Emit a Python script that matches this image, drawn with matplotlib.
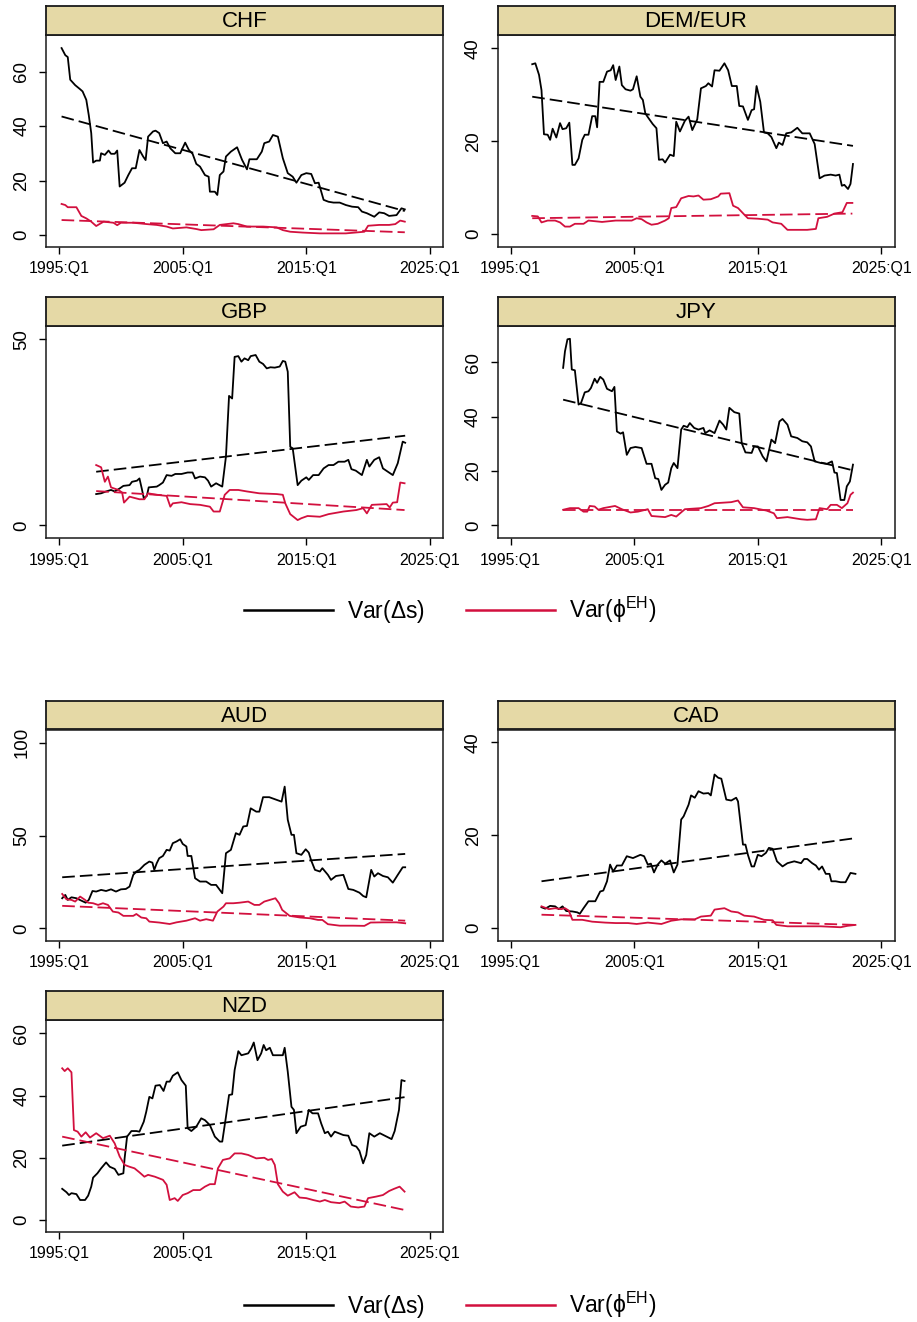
import matplotlib
matplotlib.use("Agg")
import matplotlib.pyplot as plt
from matplotlib.lines import Line2D
import numpy as np

plt.rcParams['font.family'] = ['Liberation Sans', 'DejaVu Sans']
plt.rcParams['mathtext.fontset'] = 'custom'
plt.rcParams['mathtext.rm'] = 'Liberation Sans'
plt.rcParams['mathtext.it'] = 'Liberation Sans:italic'

# rolling variances, (decimal year, value)
chf_ds = [(1995.2,68.6),(1995.5,66),(1995.7,65.3),(1995.9,57),(1996.3,55),(1996.7,53.5),(1996.9,52.7),
          (1997.2,49.6),(1997.4,44),(1997.6,37.4),(1997.75,26.6),(1998.0,27.3),(1998.3,27.3),(1998.4,30),
          (1998.7,29.4),(1999.0,31),(1999.2,29.8),(1999.5,29.8),(1999.7,31),(1999.9,17.8),(2000.3,19.2),
          (2000.6,22),(2000.9,24.5),(2001.2,24.5),(2001.5,31.2),(2001.8,28.8),(2002.0,27.5),(2002.2,36.1),
          (2002.6,38),(2002.8,38.3),(2003.1,37.4),(2003.4,33.7),(2003.7,34.3),(2004.0,31.8),(2004.4,30),
          (2004.8,30),(2005.2,33.9),(2005.5,31.2),(2005.8,29.8),(2006.1,26.1),(2006.4,25.1),(2006.8,22),
          (2007.1,21.4),(2007.2,15.9),(2007.6,15.9),(2007.8,14.7),(2008.0,22),(2008.3,23.3),(2008.5,28.8),
          (2008.9,30.6),(2009.4,32.2),(2009.8,27.6),(2010.2,24.1),(2010.4,27.8),(2011.0,27.8),(2011.4,30.6),
          (2011.6,33.7),(2012.0,34.3),(2012.3,36.7),(2012.7,36.1),(2013.1,28.2),(2013.5,22.7),(2013.9,21.4),
          (2014.2,19.2),(2014.6,22),(2015.0,22.7),(2015.4,22.4),(2015.7,19),(2016.0,19.2),(2016.4,12.9),
          (2016.8,12.2),(2017.2,11.9),(2017.7,11.9),(2018.2,11),(2018.7,10.4),(2019.2,10.2),(2019.5,8.6),
          (2019.9,8),(2020.5,6.7),(2020.9,8.3),(2021.3,8),(2021.7,7),(2022.3,7.3),(2022.7,9.8),(2022.97,9.4)]
chf_phi = [(1995.2,11.4),(1995.5,11),(1995.7,10.2),(1996.4,10.2),(1996.8,7),(1997.2,6.1),(1997.6,4.9),
           (1998.0,3.3),(1998.6,4.9),(1999.4,4.5),(1999.7,3.6),(2000.0,4.5),(2001.0,4.5),(2002.1,4.0),
           (2002.9,3.7),(2003.7,3.1),(2004.2,2.4),(2005.3,2.8),(2006.1,2.2),(2006.5,1.8),(2007.5,2.1),
           (2008.0,3.7),(2009.1,4.3),(2009.5,4.0),(2010.2,3.1),(2011.5,3.1),(2012.6,2.8),(2013.1,1.8),
           (2013.7,1.2),(2014.7,0.9),(2016.1,0.6),(2017.2,0.6),(2018.2,0.6),(2019.7,1.2),(2020.0,3.4),
           (2020.9,3.7),(2021.7,3.7),(2022.2,4.0),(2022.6,5.3),(2022.97,4.9)]
chf_trend_ds = [43.5, 8.8]
chf_trend_phi = [5.5, 1.0]

dem_ds = [(1996.75,36.6),(1997.0,36.8),(1997.3,34.3),(1997.5,31),(1997.7,21.5),(1998.0,21.4),(1998.2,20.3),
          (1998.4,22.7),(1998.7,20.8),(1999.0,23.9),(1999.2,22.6),(1999.5,22.8),(1999.75,24),(2000.0,14.9),
          (2000.2,14.9),(2000.5,16.3),(2000.8,20.3),(2001.0,21.4),(2001.3,21.4),(2001.6,25.4),(2001.85,25.4),
          (2002.0,23),(2002.2,32.8),(2002.5,32.8),(2002.8,35),(2003.1,35.3),(2003.3,36.4),(2003.5,33.2),
          (2003.8,36.1),(2004.0,32.1),(2004.3,31.2),(2004.7,30.9),(2004.9,31.2),(2005.2,34),(2005.5,29.6),
          (2005.7,28.9),(2005.9,26),(2006.1,25.2),(2006.5,23.7),(2006.8,22.8),(2007.0,16),(2007.3,16.1),
          (2007.5,15.4),(2007.9,17.1),(2008.2,16.8),(2008.4,24.2),(2008.7,22.1),(2009.1,24.4),(2009.4,25.3),
          (2009.7,22.4),(2010.1,24.7),(2010.4,31.4),(2010.8,31.9),(2011.0,32.5),(2011.3,31.8),(2011.5,35.3),
          (2011.9,35.2),(2012.3,36.8),(2012.6,35.3),(2012.9,31.9),(2013.3,31.9),(2013.5,27.6),(2013.8,27.5),
          (2014.2,24.6),(2014.5,26.7),(2014.7,26.9),(2014.9,31.9),(2015.2,28.5),(2015.5,21.9),(2015.8,21.7),
          (2016.1,20.9),(2016.5,18.5),(2016.7,19.7),(2017.0,19.2),(2017.3,21.7),(2017.7,21.9),(2018.2,22.9),
          (2018.6,21.7),(2019.2,21.7),(2019.6,19.4),(2020.0,12),(2020.4,12.6),(2020.9,12.8),(2021.3,12.6),
          (2021.6,12.8),(2021.8,10.4),(2022.0,10.6),(2022.3,9.7),(2022.5,10.8),(2022.7,15.1)]
dem_phi = [(1996.75,3.9),(1997.2,3.8),(1997.5,2.5),(1998.0,2.9),(1998.6,2.9),(1999.0,2.5),(1999.4,1.6),
           (1999.8,1.6),(2000.2,2.2),(2000.9,2.2),(2001.3,2.9),(2002.4,2.6),(2003.5,2.9),(2004.8,2.9),
           (2005.2,3.4),(2005.6,3.2),(2006.0,2.5),(2006.4,2.0),(2006.9,2.2),(2007.5,2.9),(2007.8,3.4),
           (2008.0,5.6),(2008.4,5.8),(2008.8,7.7),(2009.4,8.2),(2009.8,8.1),(2010.2,8.3),(2010.6,7.4),
           (2011.2,7.5),(2011.8,8.1),(2012.0,8.7),(2012.7,8.8),(2013.0,6.1),(2013.4,5.6),(2013.9,4.2),
           (2014.2,3.4),(2015.0,3.3),(2015.8,3.1),(2016.2,2.5),(2016.9,2.2),(2017.4,0.9),(2019.0,0.9),
           (2019.7,1.1),(2019.9,3.4),(2020.6,3.7),(2021.2,4.4),(2021.85,4.7),(2022.2,6.7),(2022.65,6.7)]
dem_trend_ds = [29.6, 19.0]
dem_trend_phi = [3.4, 4.4]

gbp_ds = [(1998.0,8.4),(1998.4,8.6),(1998.8,9.1),(1999.2,9.5),(1999.5,9.1),(1999.9,9.9),(2000.2,10.6),
          (2000.7,10.8),(2000.9,11.7),(2001.3,12),(2001.5,12.6),(2001.7,9.7),(2001.85,7.3),(2002.1,7.9),
          (2002.25,10.2),(2002.9,10.4),(2003.1,10.8),(2003.4,11.5),(2003.7,13.5),(2004.1,13.3),(2004.4,13.8),
          (2004.9,13.8),(2005.4,14.2),(2005.8,14.2),(2006.0,12.6),(2006.4,13.1),(2006.8,12.9),(2007.05,12),
          (2007.3,10.4),(2007.7,11.3),(2008.2,10.4),(2008.5,18.5),(2008.75,34.8),(2009.0,34.1),(2009.2,45.3),
          (2009.5,45.5),(2009.75,44),(2010.0,44.9),(2010.3,44.4),(2010.5,45.5),(2010.9,45.8),(2011.2,44),
          (2011.5,43.4),(2011.8,42.2),(2012.1,42.5),(2012.45,42.4),(2012.85,42.7),(2013.1,44.2),(2013.3,44),
          (2013.5,41.3),(2013.7,21.1),(2013.9,20.7),(2014.3,10.8),(2014.6,12),(2015.0,12.9),(2015.2,12.2),
          (2015.55,13.5),(2016.0,13.5),(2016.4,15.3),(2016.8,16.2),(2017.2,16.2),(2017.6,17.1),(2018.1,17.1),
          (2018.4,17.6),(2018.65,15.1),(2019.0,14.7),(2019.5,13.5),(2019.9,17.6),(2020.1,15.8),(2020.5,17.6),
          (2020.9,18.3),(2021.2,15.3),(2021.6,14.4),(2022.0,13.5),(2022.4,16.7),(2022.8,22.5),(2023.0,22.2)]
gbp_phi = [(1998.0,16.2),(1998.4,15.6),(1998.7,11.7),(1998.95,13.1),(1999.2,10.2),(1999.8,9.5),(2000.1,8.8),
           (2000.25,6.1),(2000.7,7.7),(2001.5,7.0),(2001.9,7.0),(2002.2,8.6),(2002.9,8.2),(2003.7,7.9),
           (2004.0,5.0),(2004.2,5.9),(2004.9,6.2),(2005.6,5.7),(2006.4,5.5),(2007.2,5.0),(2007.5,3.7),
           (2008.0,3.7),(2008.4,8.2),(2008.8,9.5),(2009.5,9.5),(2010.2,9.1),(2011.2,8.6),(2012.6,8.4),
           (2013.1,8.2),(2013.3,5.9),(2013.7,3.0),(2014.3,1.4),(2014.6,1.9),(2015.1,2.5),(2016.1,2.3),
           (2016.8,3.0),(2018.0,3.7),(2019.05,4.1),(2019.6,4.6),(2019.9,3.2),(2020.3,5.5),(2021.5,5.7),
           (2021.75,4.8),(2022.0,6.1),(2022.35,6.2),(2022.6,11.5),(2022.95,11.3)]
gbp_trend_ds = [14.4, 24.1]
gbp_trend_phi = [9.2, 4.1]

jpy_ds = [(1999.25,57.9),(1999.4,64),(1999.6,68.4),(1999.8,68.6),(1999.95,57.3),(2000.2,57),(2000.5,44.4),
          (2000.7,45),(2001.0,48.9),(2001.3,49.3),(2001.5,50.5),(2001.8,53.9),(2002.0,52.4),(2002.25,54.6),
          (2002.5,53.6),(2002.8,50.2),(2003.2,49.3),(2003.4,50.9),(2003.6,34.5),(2003.9,33.7),(2004.1,34.2),
          (2004.4,25.9),(2004.7,28.4),(2005.1,28.8),(2005.6,28.4),(2006.0,22.6),(2006.4,22.6),(2006.7,17.3),
          (2006.95,17),(2007.2,13),(2007.5,14.9),(2007.75,15.7),(2008.0,21),(2008.2,22.9),(2008.5,21),
          (2008.8,35.2),(2009.0,36.6),(2009.3,36.1),(2009.5,37.6),(2009.85,35.8),(2010.2,35.2),(2010.6,35.8),
          (2010.75,33.9),(2011.1,34.9),(2011.5,33.9),(2011.9,38.5),(2012.2,37),(2012.45,35.2),(2012.7,43.2),
          (2013.1,41.6),(2013.5,41.1),(2013.7,30.2),(2014.0,26.8),(2014.5,26.6),(2014.7,29),(2015.0,29),
          (2015.4,25.3),(2015.7,23.5),(2016.1,31.5),(2016.4,30.2),(2016.75,38.2),(2017.0,39.1),(2017.4,37),
          (2017.7,32.7),(2018.2,32.1),(2018.6,30.9),(2019.0,30.5),(2019.3,29),(2019.6,23.5),(2020.1,22.9),
          (2020.6,22.6),(2021.0,23.5),(2021.2,19.4),(2021.4,19.2),(2021.7,9.3),(2022.0,9.3),(2022.2,14.3),
          (2022.45,16.1),(2022.7,22.3)]
jpy_phi = [(1999.25,5.7),(1999.8,6.3),(2000.5,6.3),(2000.9,5.0),(2001.2,5.0),(2001.4,7.1),(2001.8,6.9),
           (2002.1,5.7),(2002.5,6.3),(2003.45,7.1),(2004.0,5.9),(2004.7,4.7),(2005.3,5.0),(2006.1,5.9),
           (2006.4,3.4),(2007.5,3.0),(2008.0,3.8),(2008.4,3.2),(2009.1,5.9),(2010.4,6.3),(2011.0,7.1),
           (2011.5,8.1),(2012.85,8.5),(2013.4,9.1),(2013.8,6.6),(2014.7,6.3),(2015.7,5.4),(2016.3,4.4),
           (2016.55,2.6),(2017.4,3.0),(2018.5,2.2),(2019.0,2.0),(2019.7,2.2),(2020.0,6.3),(2020.6,5.9),
           (2020.9,7.5),(2021.4,7.5),(2021.8,6.3),(2022.25,8.1),(2022.5,11.2),(2022.7,12.0)]
jpy_trend_ds = [46.2, 20.2]
jpy_trend_phi = [5.7, 5.7]

aud_ds = [(1995.25,16.2),(1995.5,18),(1995.7,15.3),(1996.0,16.7),(1996.4,16.2),(1996.8,14.9),(1997.15,13.8),
          (1997.4,15.3),(1997.7,20.1),(1998.0,19.8),(1998.4,20.7),(1998.8,20.1),(1999.2,21),(1999.6,19.8),
          (2000.0,21),(2000.4,21.2),(2000.7,22.5),(2001.0,28.8),(2001.25,30.6),(2001.5,31.5),(2001.9,34.2),
          (2002.3,36),(2002.55,35.4),(2002.7,31.5),(2002.9,35.1),(2003.1,37.8),(2003.4,39),(2003.7,42.3),
          (2003.95,41.9),(2004.2,45.9),(2004.5,46.8),(2004.8,48),(2005.0,45.5),(2005.3,44.1),(2005.4,39),
          (2005.7,39),(2006.0,27),(2006.4,25.2),(2006.9,25.2),(2007.3,23.4),(2007.7,23.4),(2008.2,18.9),
          (2008.5,40.5),(2008.9,42.3),(2009.3,51.3),(2009.6,50.4),(2009.9,54.9),(2010.2,55.2),(2010.5,64.7),
          (2010.95,62.9),(2011.2,62.9),(2011.5,70.7),(2012.0,70.7),(2013.0,68.3),(2013.25,76.4),(2013.5,58.5),
          (2013.8,50.4),(2014.0,50.4),(2014.2,40.5),(2014.6,39.6),(2014.95,42.6),(2015.2,40.8),(2015.4,36.5),
          (2015.7,31.5),(2016.1,30.6),(2016.3,32.4),(2016.75,28.8),(2017.0,26.1),(2017.4,28.2),(2018.0,28.8),
          (2018.4,21.2),(2018.8,20.7),(2019.3,19.2),(2019.6,17.4),(2019.85,16.7),(2020.25,31.5),(2020.5,27.9),
          (2020.8,29.7),(2021.2,28.2),(2021.6,27.5),(2022.0,24.6),(2022.4,28.8),(2022.8,32.9),(2023.0,32.9)]
aud_phi = [(1995.25,18.5),(1995.6,15.6),(1996.0,15.3),(1996.3,14.4),(1996.7,17.1),(1997.1,15.3),(1997.35,13.8),
           (1997.75,13.5),(1998.15,12.6),(1998.55,13.5),(1998.95,12.6),(1999.35,9.0),(1999.8,8.5),(2000.2,6.7),
           (2000.6,6.7),(2001.0,6.7),(2001.25,7.7),(2001.65,5.8),(2002.05,5.4),(2002.3,3.6),(2003.1,3.1),
           (2003.95,2.3),(2004.5,3.2),(2005.3,4.1),(2006.0,5.4),(2006.4,4.1),(2006.9,4.9),(2007.45,4.1),
           (2007.8,9.0),(2008.3,11.7),(2008.5,13.5),(2009.1,13.5),(2009.6,13.8),(2010.3,14.4),(2010.8,12.6),
           (2011.2,12.6),(2011.6,14.4),(2012.2,15.6),(2012.5,16.2),(2012.8,13.5),(2013.05,9.9),(2013.65,6.7),
           (2014.5,5.8),(2015.3,5.4),(2015.95,4.5),(2016.3,4.5),(2016.75,2.2),(2017.7,1.4),(2018.8,1.4),
           (2019.7,1.3),(2020.2,3.1),(2021.2,3.2),(2022.3,3.2),(2023.0,2.7)]
aud_trend_ds = [27.5, 40.1]
aud_trend_phi = [12.1, 4.1]

cad_ds = [(1997.5,4.5),(1997.8,4.2),(1998.2,4.8),(1998.6,4.7),(1998.9,4.1),(1999.2,4.7),(1999.5,3.7),
          (2000.0,3.6),(2000.4,3.4),(2000.6,3.1),(2000.9,4.3),(2001.3,5.8),(2001.85,5.8),(2002.25,7.9),
          (2002.5,8.1),(2002.8,10.1),(2003.05,13.7),(2003.3,12.2),(2003.6,13.5),(2004.0,13.5),(2004.4,15.5),
          (2004.9,15.1),(2005.5,15.8),(2005.8,15.5),(2006.1,13.7),(2006.35,13.9),(2006.6,12.0),(2006.9,13.7),
          (2007.2,14.6),(2007.5,13.9),(2007.9,14.6),(2008.2,12.0),(2008.5,13.7),(2008.8,23.4),(2009.0,24.1),
          (2009.4,26.6),(2009.6,28.6),(2009.9,28.1),(2010.2,29.5),(2010.6,29),(2011.0,29.1),(2011.2,28.6),
          (2011.5,33.1),(2011.8,32.4),(2012.05,32.2),(2012.45,27.7),(2012.85,27.5),(2013.25,28.1),(2013.4,27.3),
          (2013.8,18.0),(2014.0,18.0),(2014.2,15.8),(2014.5,13.3),(2014.7,13.3),(2015.0,15.8),(2015.3,15.5),
          (2015.65,16.2),(2015.9,17.3),(2016.2,17.1),(2016.55,14.4),(2017.0,13.3),(2017.4,14.0),(2017.95,14.4),
          (2018.5,14.0),(2018.75,14.9),(2019.0,14.9),(2019.4,14.0),(2019.7,13.5),(2019.95,12.6),(2020.2,13.3),
          (2020.5,11.7),(2020.8,11.7),(2020.95,10.1),(2021.3,10.1),(2021.7,9.9),(2022.1,9.9),(2022.5,11.9),
          (2022.9,11.7)]
cad_phi = [(1997.5,4.7),(1998.1,4.1),(1998.6,4.3),(1999.1,4.1),(1999.4,4.3),(1999.7,3.8),(2000.0,1.8),
           (2000.8,1.8),(2001.6,1.4),(2002.65,1.2),(2003.5,1.1),(2004.5,1.1),(2005.2,0.9),(2006.1,1.2),
           (2007.2,0.9),(2008.0,1.6),(2008.8,1.9),(2009.9,1.9),(2010.4,2.5),(2011.2,2.7),(2011.5,4.0),
           (2012.3,4.3),(2012.85,3.6),(2013.4,3.4),(2013.9,2.7),(2014.7,2.5),(2015.5,1.8),(2016.2,1.7),
           (2016.5,0.7),(2017.4,0.4),(2019.0,0.4),(2020.1,0.4),(2021.7,0.2),(2022.25,0.5),(2022.9,0.7)]
cad_trend_ds = [10.1, 19.4]
cad_trend_phi = [2.9, 0.7]

nzd_ds = [(1995.25,10),(1995.6,8.9),(1995.8,8.0),(1996.0,8.6),(1996.4,8.3),(1996.7,6.4),(1997.1,6.4),
          (1997.35,7.8),(1997.6,10.7),(1997.75,13.6),(1998.1,15),(1998.4,16.6),(1998.8,18.5),(1999.1,17.1),
          (1999.5,16.4),(1999.8,14.5),(2000.2,15),(2000.3,19.8),(2000.5,26.8),(2000.85,28.6),(2001.25,28.6),
          (2001.5,28.4),(2001.85,31.6),(2002.05,34.8),(2002.3,39.6),(2002.55,39.1),(2002.8,43.2),(2003.15,43.4),
          (2003.45,41.5),(2003.7,44.5),(2003.95,44.5),(2004.2,46.4),(2004.6,47.5),(2004.9,45),(2005.25,43.2),
          (2005.4,29.5),(2005.7,28.6),(2006.1,30),(2006.5,32.7),(2006.8,32.1),(2007.2,30.5),(2007.6,26.8),
          (2008.0,25.2),(2008.2,25.2),(2008.5,33.2),(2008.75,40.2),(2009.0,40.4),(2009.2,48.2),(2009.5,54.3),
          (2009.75,53),(2010.3,53.6),(2010.55,55.2),(2010.75,57.1),(2011.05,51.4),(2011.35,53.6),(2011.55,56.3),
          (2011.75,54.6),(2012.05,55.4),(2012.3,53),(2012.7,53),(2013.1,53),(2013.25,55.4),(2013.5,47.7),
          (2013.8,36.4),(2014.0,35.4),(2014.2,27.9),(2014.55,30),(2014.95,30.5),(2015.2,35.4),(2015.5,34.3),
          (2015.95,34.3),(2016.2,31.1),(2016.5,27.9),(2016.75,28.4),(2017.0,26.8),(2017.3,28.4),(2018.0,27.3),
          (2018.4,27.1),(2018.7,24.1),(2019.05,23.6),(2019.3,22.2),(2019.6,18.2),(2019.85,20.9),(2020.1,27.9),
          (2020.5,26.8),(2020.95,27.9),(2021.5,26.8),(2021.9,26),(2022.15,28.6),(2022.5,35.4),(2022.7,45),
          (2022.95,44.7)]
nzd_phi = [(1995.25,48.8),(1995.45,47.9),(1995.7,48.8),(1996.0,47.5),(1996.2,28.9),(1996.5,28.4),(1996.8,26.8),
           (1997.15,28.2),(1997.5,26.5),(1998.0,27.9),(1998.55,26.3),(1999.1,27.1),(1999.5,24.6),(1999.9,20.4),
           (2000.3,17.7),(2000.7,17.1),(2001.1,16.6),(2001.5,15.3),(2001.9,13.9),(2002.2,14.5),(2002.75,13.9),
           (2003.4,12.9),(2003.7,11.3),(2003.95,6.4),(2004.35,7.0),(2004.6,6.1),(2005.0,8.0),(2005.4,8.6),
           (2005.85,9.6),(2006.4,9.6),(2006.8,10.7),(2007.2,11.5),(2007.6,11.5),(2007.85,16.6),(2008.25,19.3),
           (2008.8,19.8),(2009.2,21.4),(2009.75,21.4),(2010.3,20.9),(2010.95,19.8),(2011.6,20.0),(2011.9,19.3),
           (2012.2,19.6),(2012.45,17.7),(2012.7,11.5),(2013.1,9.1),(2013.5,7.8),(2014.05,8.9),(2014.45,7.2),
           (2015.0,7.0),(2015.55,6.4),(2016.1,5.9),(2016.5,6.4),(2017.0,5.7),(2017.7,5.4),(2018.1,5.9),
           (2018.6,4.3),(2019.2,4.0),(2019.7,4.3),(2020.0,7.0),(2020.65,7.5),(2021.2,8.0),(2021.7,9.3),
           (2022.1,10.0),(2022.55,10.7),(2022.95,9.1)]
nzd_trend_ds = [23.9, 39.5]
nzd_trend_phi = [26.8, 3.2]

year_ticks = [1995, 2005, 2015, 2025]
year_labels = ['1995:Q1', '2005:Q1', '2015:Q1', '2025:Q1']

# name -> (ds, phi, ds trend ends, phi trend ends, y ticks, y limits)
panels = [
    ('CHF', chf_ds, chf_phi, chf_trend_ds, chf_trend_phi, [0, 20, 40, 60], (-4.4, 73.4)),
    ('DEM/EUR', dem_ds, dem_phi, dem_trend_ds, dem_trend_phi, [0, 20, 40], (-2.8, 42.9)),
    ('GBP', gbp_ds, gbp_phi, gbp_trend_ds, gbp_trend_phi, [0, 50], (-3.5, 53.6)),
    ('JPY', jpy_ds, jpy_phi, jpy_trend_ds, jpy_trend_phi, [0, 20, 40, 60], (-4.8, 73.3)),
    ('AUD', aud_ds, aud_phi, aud_trend_ds, aud_trend_phi, [0, 50, 100], (-6.7, 107.2)),
    ('CAD', cad_ds, cad_phi, cad_trend_ds, cad_trend_phi, [0, 20, 40], (-2.7, 42.8)),
    ('NZD', nzd_ds, nzd_phi, nzd_trend_ds, nzd_trend_phi, [0, 20, 40, 60], (-3.8, 64.5)),
]

RED = '#D2103E'
STRIP = '#E5D9A6'
W, H = 917, 1322

# plot boxes in pixels: left, top, right, bottom
boxes = [(46, 35, 443, 247), (497.5, 35, 894.5, 247),
         (46, 326, 443, 538.3), (497.5, 326, 894.5, 538.3),
         (46, 729.5, 443, 940.7), (497.5, 729.5, 894.5, 940.7),
         (46, 1019.5, 443, 1231.7)]
strip_h = 29

fig = plt.figure(figsize=(W / 100, H / 100), dpi=100)


def draw_panel(box, name, ds, phi, trend_ds, trend_phi, yticks, ylim):
    l, t, r, b = box
    ax = fig.add_axes([l / W, 1 - b / H, (r - l) / W, (b - t) / H])
    sx = fig.add_axes([l / W, 1 - t / H, (r - l) / W, strip_h / H])
    sx.set_facecolor(STRIP)
    sx.set_xticks([])
    sx.set_yticks([])
    for s in sx.spines.values():
        s.set_linewidth(1.3)
        s.set_color('#1a1a1a')
    sx.text(0.5, 0.45, name, ha='center', va='center', fontsize=16, transform=sx.transAxes)

    for series, trend, col in [(ds, trend_ds, 'black'), (phi, trend_phi, RED)]:
        x, y = np.array(series).T
        ax.plot(x, y, color=col, lw=1.3, solid_joinstyle='round')
        ax.plot([x[0], x[-1]], trend, color=col, lw=1.3, dashes=(7, 2.8))

    ax.set_xlim(1993.94, 2026.06)
    ax.set_ylim(*ylim)
    ax.set_xticks(year_ticks)
    ax.set_xticklabels(year_labels)
    ax.set_yticks(yticks)
    ax.set_yticklabels([str(v) for v in yticks], rotation=90, va='center')
    ax.tick_params(axis='x', length=4.8, width=1.0, pad=5.5, labelsize=11.4)
    ax.tick_params(axis='y', length=4.8, width=1.0, pad=6.5, labelsize=13.4)
    for s in ax.spines.values():
        s.set_linewidth(1.1)
        s.set_color('#1a1a1a')


for box, p in zip(boxes, panels):
    draw_panel(box, *p)

handles = [Line2D([], [], color='black', lw=1.8), Line2D([], [], color=RED, lw=1.8)]
labels = [r'Var($\Delta$s)', r'Var($\mathrm{\phi}^{\mathrm{EH}}$)']
for yc in (610, 1305):
    fig.legend(handles, labels, loc='center', bbox_to_anchor=(450 / W, 1 - yc / H),
               ncol=2, frameon=False, fontsize=16.5, handlelength=3.9,
               handletextpad=0.6, columnspacing=1.8)

fig.savefig('out.png', dpi=100)
